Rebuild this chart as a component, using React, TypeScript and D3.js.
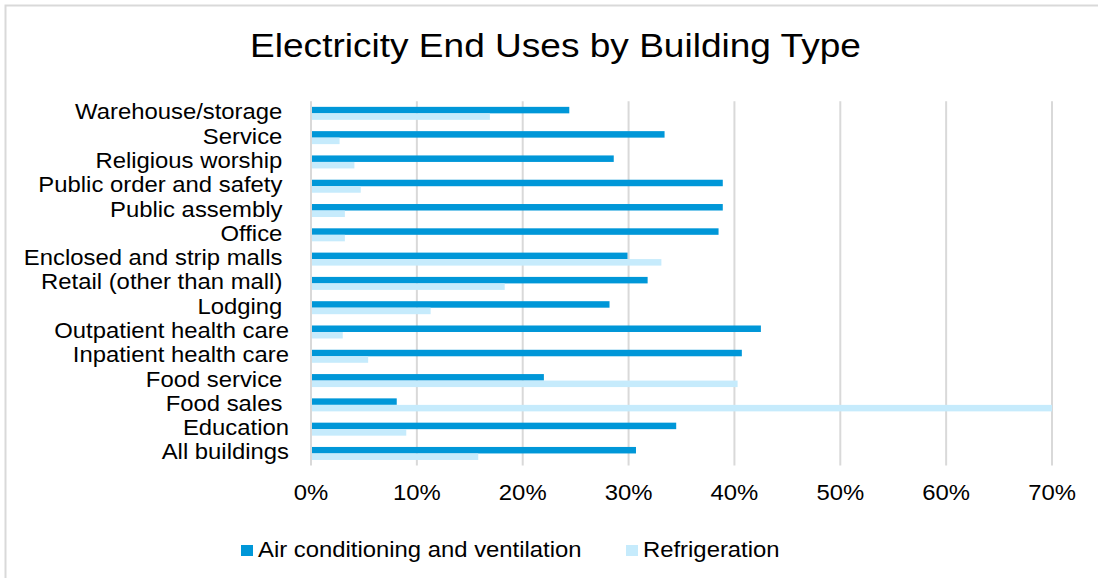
import React from "react";
import * as d3 from "d3";

// Building types, top to bottom as listed on the axis
const categories: string[] = [
  "Warehouse/storage ",
  "Service ",
  "Religious worship ",
  "Public order and safety ",
  "Public assembly ",
  "Office ",
  "Enclosed and strip malls ",
  "Retail (other than mall) ",
  "Lodging ",
  "Outpatient health care",
  "Inpatient health care",
  "Food service ",
  "Food sales ",
  "Education",
  "All buildings",
];

// Share of electricity use, same order as categories
const airConditioning: number[] = [
  0.244, 0.334, 0.286, 0.389, 0.389, 0.385, 0.299, 0.318, 0.282, 0.425, 0.407,
  0.22, 0.081, 0.345, 0.307,
];
const refrigeration: number[] = [
  0.169, 0.027, 0.041, 0.047, 0.032, 0.032, 0.331, 0.183, 0.113, 0.03, 0.054,
  0.403, 0.7, 0.09, 0.158,
];

const seriesNames: string[] = ["Air conditioning and ventilation", "Refrigeration"];
const seriesColors: string[] = ["#0097d8", "#c6ebfc"];
const xTicks: number[] = [0, 0.1, 0.2, 0.3, 0.4, 0.5, 0.6, 0.7];

const W = 1098;
const H = 578;
const FONT = "'Liberation Sans', Arial, sans-serif";
const SX = 1.11;

export default function App() {
  const plotLeft = 311;
  const plotRight = 1052;
  const plotTop = 101.2;
  const plotBottom = 465.6;

  const x = d3.scaleLinear().domain([0, 0.7]).range([plotLeft, plotRight]);
  const y = d3
    .scaleBand<string>()
    .domain(categories)
    .range([plotTop, plotBottom])
    .paddingInner(0.465)
    .paddingOuter(0.2325);
  const sub = d3
    .scaleBand<number>()
    .domain([0, 1])
    .range([0, y.bandwidth()]);

  const values = [airConditioning, refrigeration];
  const fmt = d3.format(".0%");

  return (
    <svg
      width={W}
      height={H}
      style={{ position: "absolute", left: 0, top: 0, background: "#fff" }}
      fontFamily={FONT}
    >
      <rect x={0} y={0} width={W} height={H} fill="#fff" />
      {/* chart frame */}
      <rect x={5.5} y={5.5} width={W + 10} height={H + 10} fill="none" stroke="#d9d9d9" strokeWidth={2} />

      <text
        transform={`translate(555.5,57) scale(1.09,1)`}
        textAnchor="middle"
        fontSize={34}
        fill="#000"
      >
        Electricity End Uses by Building Type
      </text>

      {/* vertical gridlines */}
      {xTicks.map((t) => (
        <line
          key={t}
          x1={x(t)}
          x2={x(t)}
          y1={plotTop}
          y2={plotBottom}
          stroke="#d9d9d9"
          strokeWidth={2}
        />
      ))}

      {/* bars */}
      {categories.map((c, i) => (
        <g key={c}>
          {values.map((vals, s) => {
            const v = Math.min(vals[i], 0.7);
            return (
              <rect
                key={s}
                x={x(0) + 1}
                y={(y(c) as number) + (sub(s) as number)}
                width={Math.max(0, x(v) - x(0) - 1)}
                height={sub.bandwidth()}
                fill={seriesColors[s]}
              />
            );
          })}
        </g>
      ))}

      {/* category labels */}
      {categories.map((c) => (
        <text
          key={c}
          transform={`translate(289,${(y(c) as number) + y.bandwidth() / 2 + 6}) scale(${SX},1)`}
          textAnchor="end"
          fontSize={21.5}
          fill="#000"
          style={{ whiteSpace: "pre" }}
        >
          {c}
        </text>
      ))}

      {/* value axis labels */}
      {xTicks.map((t) => (
        <text
          key={t}
          transform={`translate(${x(t)},500) scale(${SX},1)`}
          textAnchor="middle"
          fontSize={21.5}
          fill="#000"
        >
          {fmt(t)}
        </text>
      ))}

      {/* legend */}
      {seriesNames.map((name, s) => {
        const lx = s === 0 ? 241 : 626;
        return (
          <g key={name}>
            <rect x={lx} y={545} width={12} height={11} fill={seriesColors[s]} />
            <text
              transform={`translate(${lx + 17},557) scale(${SX},1)`}
              fontSize={21.5}
              fill="#000"
            >
              {name}
            </text>
          </g>
        );
      })}
    </svg>
  );
}
